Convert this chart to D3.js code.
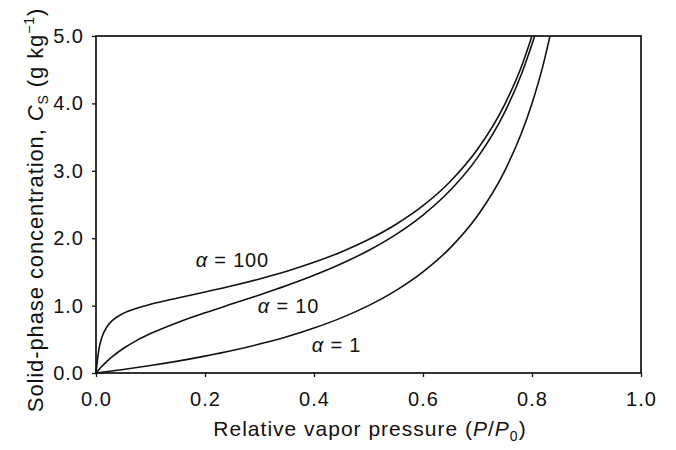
<!DOCTYPE html>
<html><head><meta charset="utf-8">
<script src="https://cdn.jsdelivr.net/npm/d3@7"></script>
<style>body{margin:0;background:#fff}svg{display:block}text{font-family:"Liberation Sans",Arial,sans-serif;fill:#111}</style>
</head><body><svg id="c" width="676" height="450"></svg>
<script>
// Values (relative vapor pressure vs. solid-phase concentration)
const xAlpha1   = [0, 0.05, 0.1, 0.15, 0.2, 0.25, 0.3, 0.35, 0.4, 0.45, 0.5, 0.55, 0.6, 0.65, 0.7, 0.75, 0.78, 0.8, 0.82, 0.833];
const yAlpha1   = [0, 0.053, 0.111, 0.176, 0.25, 0.333, 0.429, 0.538, 0.667, 0.818, 1.0, 1.222, 1.5, 1.857, 2.333, 3.0, 3.545, 4.0, 4.556, 5.0];
const xAlpha10  = [0, 0.01, 0.02, 0.03, 0.05, 0.075, 0.1, 0.15, 0.2, 0.25, 0.3, 0.35, 0.4, 0.45, 0.5, 0.55, 0.6, 0.65, 0.7, 0.75, 0.78, 0.8, 0.805];
const yAlpha10  = [0, 0.093, 0.173, 0.244, 0.363, 0.484, 0.585, 0.751, 0.893, 1.026, 1.158, 1.297, 1.449, 1.62, 1.818, 2.054, 2.344, 2.711, 3.196, 3.871, 4.421, 4.878, 5.0];
const xAlpha100 = [0, 0.005, 0.01, 0.02, 0.03, 0.05, 0.075, 0.1, 0.15, 0.2, 0.25, 0.3, 0.35, 0.4, 0.45, 0.5, 0.55, 0.6, 0.65, 0.7, 0.75, 0.78, 0.8];
const yAlpha100 = [0, 0.336, 0.508, 0.685, 0.779, 0.885, 0.962, 1.019, 1.113, 1.202, 1.294, 1.396, 1.51, 1.642, 1.796, 1.98, 2.204, 2.483, 2.842, 3.319, 3.987, 4.533, 5.0];
const seriesLabels = ["\u03B1 = 1", "\u03B1 = 10", "\u03B1 = 100"];
const labelPos = [[0.396, 0.31], [0.297, 0.89], [0.183, 1.57]];
const xTicks = [0, 0.2, 0.4, 0.6, 0.8, 1.0];
const yTicks = [0, 1, 2, 3, 4, 5];

const svg = d3.select("#c");
const L = 96, R = 641, T = 36, B = 373;
const x = d3.scaleLinear().domain([0, 1]).range([L, R]);
const y = d3.scaleLinear().domain([0, 5]).range([B, T]);

const xa = svg.append("g").attr("transform", `translate(0,${B})`)
  .call(d3.axisBottom(x).tickValues(xTicks).tickFormat(d3.format(".1f")).tickSize(4).tickPadding(15));
const ya = svg.append("g").attr("transform", `translate(${L},0)`)
  .call(d3.axisLeft(y).tickValues(yTicks).tickFormat(d3.format(".1f")).tickSize(4).tickPadding(8));
[xa, ya].forEach(a => {
  a.select(".domain").remove();
  a.selectAll("line").attr("stroke", "#111").attr("stroke-width", 1.3);
  a.selectAll("text").style("font-size", "20px").style("letter-spacing", "1px").attr("fill", "#111");
});
svg.append("rect").attr("x", L).attr("y", T).attr("width", R - L).attr("height", B - T)
  .attr("fill", "none").attr("stroke", "#111").attr("stroke-width", 1.7);

const line = d3.line().x(d => x(d[0])).y(d => y(d[1])).curve(d3.curveMonotoneX);
const series = [[xAlpha1, yAlpha1], [xAlpha10, yAlpha10], [xAlpha100, yAlpha100]];
series.forEach(([xs, ys]) => {
  svg.append("path").datum(xs.map((v, i) => [v, ys[i]])).attr("d", line)
    .attr("fill", "none").attr("stroke", "#111").attr("stroke-width", 1.6);
});
seriesLabels.forEach((t, i) => {
  const parts = t.split(" = ");
  const tx = svg.append("text").attr("x", x(labelPos[i][0])).attr("y", y(labelPos[i][1]))
    .style("font-size", "20px").style("letter-spacing", "0.8px");
  tx.append("tspan").style("font-style", "italic").text(parts[0]);
  tx.append("tspan").text(" = " + parts[1]);
});

// axis titles
const xt = svg.append("text").attr("x", 370).attr("y", 436).attr("text-anchor", "middle")
  .style("font-size", "21px").style("letter-spacing", "1px");
xt.append("tspan").text("Relative vapor pressure (");
xt.append("tspan").style("font-style", "italic").text("P");
xt.append("tspan").text("/");
xt.append("tspan").style("font-style", "italic").text("P");
xt.append("tspan").attr("dy", 5).style("font-size", "14px").text("0");
xt.append("tspan").attr("dy", -5).text(")");

const yt = svg.append("text").attr("transform", "translate(43,210) rotate(-90)").attr("text-anchor", "middle")
  .style("font-size", "22px").style("letter-spacing", "0.9px");
yt.append("tspan").text("Solid-phase concentration, ");
yt.append("tspan").style("font-style", "italic").text("C");
yt.append("tspan").attr("dy", 5).style("font-size", "14px").text("S");
yt.append("tspan").attr("dy", -5).text(" (g kg");
yt.append("tspan").attr("dy", -9).style("font-size", "14px").text("\u22121");
yt.append("tspan").attr("dy", 9).text(")");
</script></body></html>
